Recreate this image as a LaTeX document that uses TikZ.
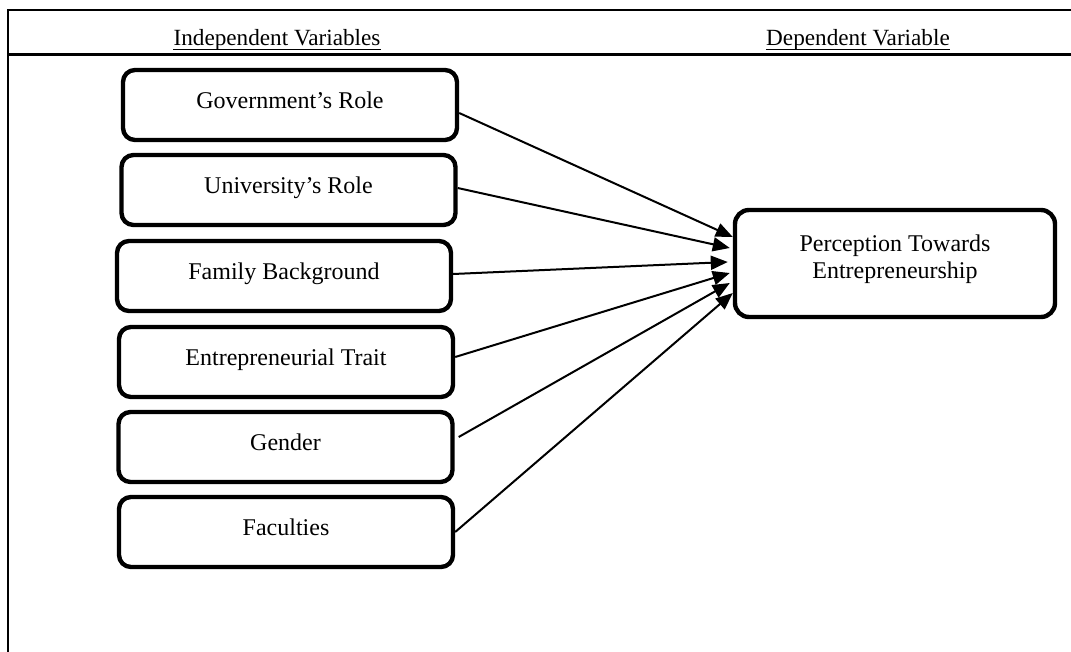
\documentclass[tikz,border=0pt]{standalone}
\usepackage{fontspec}
\setmainfont{Liberation Serif}
\usetikzlibrary{arrows.meta,calc}
\begin{document}
\begin{tikzpicture}[x=0.5pt,y=-0.5pt,
  varbox/.style={draw, line width=2.2pt, rounded corners=6pt, minimum width=167pt, minimum height=35pt, inner sep=0pt, font=\fontsize{12}{13.5}\selectfont, text height=8.4pt, text depth=5pt},
  depbox/.style={draw, line width=2.2pt, rounded corners=7pt, minimum width=160pt, minimum height=53.5pt, inner sep=0pt},
  deptext/.style={align=center, inner sep=0pt, font=\fontsize{12}{13.5}\selectfont},
  hdr/.style={inner sep=0pt, anchor=base, font=\fontsize{11.6}{13}\selectfont},
  uline/.style={line width=0.75pt},
  conn/.style={line width=1pt, -{Triangle[length=8.5pt,width=7pt]}},
  frameline/.style={line width=1pt}]
\useasboundingbox (0,0) rectangle (1071,652);
% frame
\draw[frameline] (8,652) -- (8,10) -- (1071,10);
\draw[line width=1.5pt] (8,55) -- (1071,55);
% headers
\node[hdr] (hi) at (277,46) {Independent Variables};
\node[hdr] (hd) at (858,46) {Dependent Variable};
\draw[uline] ($(hi.base west)+(0,3.5)$) -- ($(hi.base east)+(0,3.5)$);
\draw[uline] ($(hd.base west)+(0,3.5)$) -- ($(hd.base east)+(0,3.5)$);
% independent variables
\node[varbox] (gov) at (290,105) {Government’s Role};
\node[varbox] (uni) at (288.5,190) {University’s Role};
\node[varbox] (fam) at (284,276) {Family Background};
\node[varbox] (ent) at (286,362) {Entrepreneurial Trait};
\node[varbox] (gen) at (285.5,447) {Gender};
\node[varbox] (fac) at (286,532) {Faculties};
% dependent variable
\node[depbox] (per) at (895,263.5) {};
\node[deptext] (pert) at (895,259.5) {Perception Towards\\Entrepreneurship};
% connectors
\draw[conn] ($(gov.east)+(0,8)$) -- ($(per.west)+(0,-26.5)$);
\draw[conn] ($(uni.east)+(0,-2)$) -- ($(per.west)+(-3,-15.5)$);
\draw[conn] ($(fam.east)+(0,-2)$) -- ($(per.west)+(-5,-1.5)$);
\draw[conn] ($(ent.east)+(0,-5)$) -- ($(per.west)+(-3,9.5)$);
\draw[conn] ($(gen.east)+(4,-10)$) -- ($(per.west)+(-3,19.5)$);
\draw[conn] ($(fac.east)+(0,0)$) -- ($(per.west)+(0,29.5)$);
\end{tikzpicture}
\end{document}
